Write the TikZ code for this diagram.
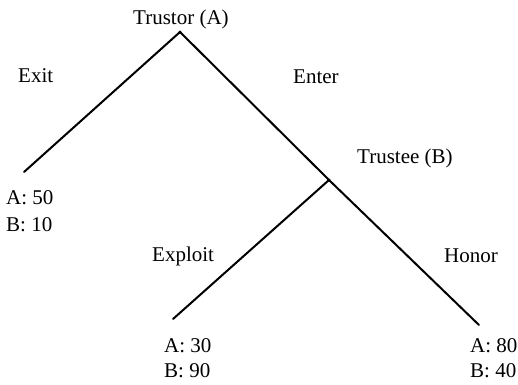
\documentclass[tikz,border=0pt]{standalone}
\usepackage{fontspec}
\setmainfont{Liberation Serif}
\begin{document}
\begin{tikzpicture}[x=1pt,y=-1pt,
  lbl/.style={anchor=base west,inner sep=0pt,font=\fontsize{21}{25}\selectfont},
  branch/.style={line width=2pt,line cap=round},
  dec/.style={circle,fill=black,inner sep=0pt,minimum size=3.5pt}]
\useasboundingbox (0,0) rectangle (518,384);
% decision nodes and leaves
\node[dec] (root) at (180,32) {};
\node[dec] (trustee) at (329,180) {};
\coordinate (exitend) at (24,172);
\coordinate (exploitend) at (173,319);
\coordinate (honorend) at (479,325);
% branches
\draw[branch] (root.center) -- (exitend);
\draw[branch] (root.center) -- (trustee.center);
\draw[branch] (trustee.center) -- (exploitend);
\draw[branch] (trustee.center) -- (honorend);
% labels
\node[lbl] (ltrustor) at (133,24) {Trustor (A)};
\node[lbl] (lexit) at (18,82) {Exit};
\node[lbl] (lenter) at (293,83) {Enter};
\node[lbl] (ltrustee) at (357,163) {Trustee (B)};
\node[lbl] (lexploit) at (152,261) {Exploit};
\node[lbl] (lhonor) at (444,262) {Honor};
% payoffs
\node[lbl] (pa1) at (6,204) {A: 50};
\node[lbl] (pb1) at (6,231) {B: 10};
\node[lbl] (pa2) at (164,352) {A: 30};
\node[lbl] (pb2) at (164,377) {B: 90};
\node[lbl] (pa3) at (470,352) {A: 80};
\node[lbl] (pb3) at (470,377) {B: 40};
\end{tikzpicture}
\end{document}
